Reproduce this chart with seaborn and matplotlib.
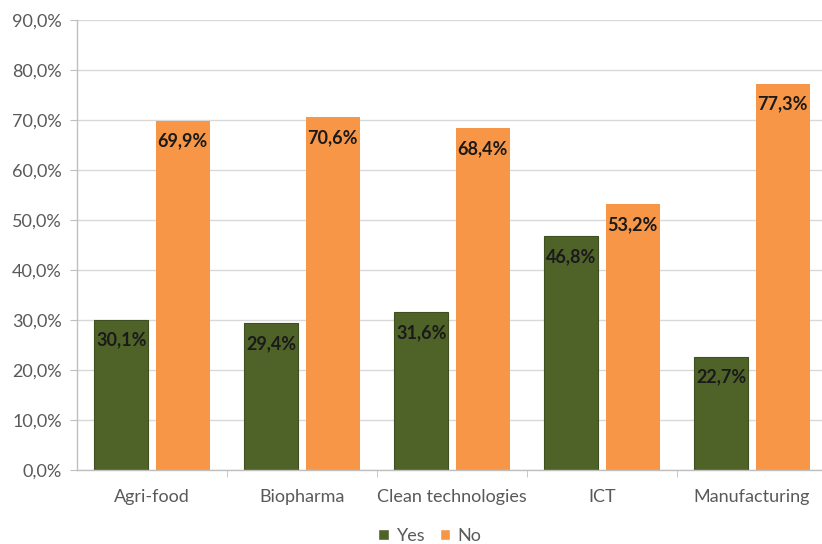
import matplotlib
matplotlib.use("Agg")
import matplotlib.pyplot as plt
import seaborn as sns
import pandas as pd
from matplotlib.ticker import FuncFormatter, MultipleLocator
from matplotlib.patches import Patch

sectors = ["Agri-food", "Biopharma", "Clean technologies", "ICT", "Manufacturing"]
yes_values = [30.1, 29.4, 31.6, 46.8, 22.7]
no_values = [69.9, 70.6, 68.4, 53.2, 77.3]
series = ["Yes", "No"]
colors = {"Yes": "#4F6228", "No": "#F79646"}

df = pd.DataFrame({
    "sector": sectors * 2,
    "answer": ["Yes"] * len(sectors) + ["No"] * len(sectors),
    "value": yes_values + no_values,
})

sns.set_style("white")
plt.rcParams["font.family"] = ["Lato", "DejaVu Sans"]

fig = plt.figure(figsize=(8.22, 5.44), dpi=100)
ax = fig.add_axes([77 / 822, 1 - 470 / 544, 750 / 822, 450 / 544])

sns.barplot(data=df, x="sector", y="value", hue="answer", hue_order=series,
            palette=colors, width=0.82, gap=0.12, ax=ax, legend=False,
            edgecolor="none", saturation=1)

# thin darker outline on the green bars
for patch in ax.containers[0]:
    patch.set_edgecolor("#3F5020")
    patch.set_linewidth(0.8)

ax.set_xlim(-0.5, 4.5)
ax.set_ylim(0, 90)
ax.yaxis.set_major_locator(MultipleLocator(10))
ax.yaxis.set_major_formatter(FuncFormatter(lambda v, _: f"{v:.1f}%".replace(".", ",")))
ax.grid(axis="y", color="#D9D9D9", linewidth=1)
ax.set_axisbelow(True)
ax.set_xlabel("")
ax.set_ylabel("")

for side in ["top", "right"]:
    ax.spines[side].set_visible(False)
for side in ["left", "bottom"]:
    ax.spines[side].set_color("#BFBFBF")
    ax.spines[side].set_linewidth(1)

ax.tick_params(axis="y", length=5, color="#BFBFBF", labelsize=13,
               labelcolor="#595959", left=True, pad=6)
ax.tick_params(axis="x", length=0, labelsize=13, labelcolor="#595959", pad=14)
# category separator ticks on the x axis
ax.set_xticks([i + 0.5 for i in range(len(sectors) - 1)], minor=True)
ax.tick_params(axis="x", which="minor", length=5, color="#BFBFBF", bottom=True)

for container in ax.containers:
    labels = [f"{v:.1f}%".replace(".", ",") for v in container.datavalues]
    ax.bar_label(container, labels=labels, label_type="edge", padding=-21,
                 fontsize=13, fontweight="bold", color="#1a1a1a")

handles = [Patch(facecolor=colors[s], label=s) for s in series]
fig.legend(handles=handles, loc="center", bbox_to_anchor=(430 / 822, 1 - 536 / 544),
           ncol=2, frameon=False, fontsize=13, handlelength=0.6, handleheight=0.6,
           handletextpad=0.4, columnspacing=0.8, labelcolor="#595959")

fig.savefig("out.png", dpi=100)
